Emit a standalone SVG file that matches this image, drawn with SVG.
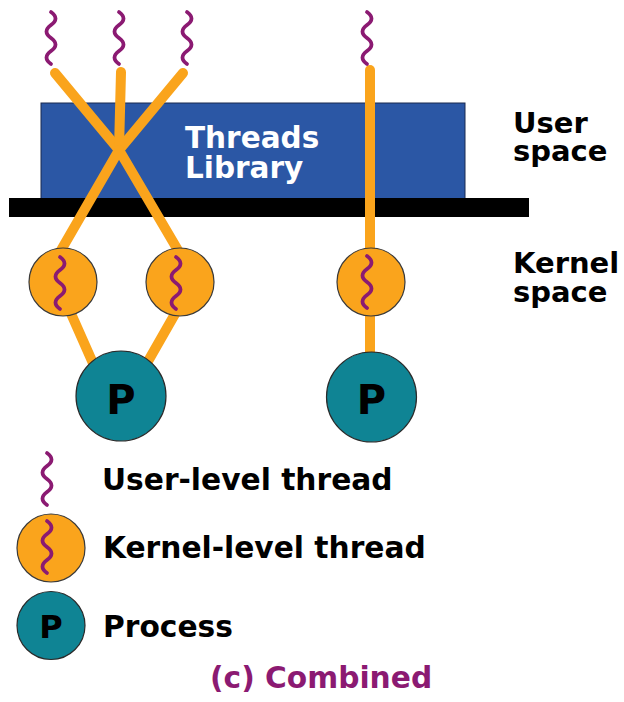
<svg xmlns="http://www.w3.org/2000/svg" xmlns:xlink="http://www.w3.org/1999/xlink" width="624" height="702" viewBox="0 0 624 702">
<style>
.t{font-family:"DejaVu Sans","Liberation Sans",sans-serif;font-weight:bold;fill:#000}
.w{fill:#fff}
.sq{fill:none;stroke:#8B1A72;stroke-width:3.8;stroke-linecap:round}
.con{stroke:#FAA41C;stroke-width:10;stroke-linecap:round;fill:none}
.kt{fill:#FAA41C;stroke:#3a3a3a;stroke-width:1.2}
.pr{fill:#0F8494;stroke:#2a2a2a;stroke-width:1.2}
</style>
<defs>
<path id="sq" d="M0,0 q9,6.5 0,13 t0,13 t0,13 t0,13"/>
</defs>
<rect width="624" height="702" fill="#fff"/>
<g id="library">
<rect x="41" y="103" width="424" height="96" fill="#2B57A5" stroke="#1a2a50" stroke-width="1"/>
<text class="t w" x="185" y="148" font-size="29.5">Threads</text>
<text class="t w" x="185" y="178" font-size="29.5">Library</text>
</g>
<g id="kernel-boundary">
<rect x="9" y="198" width="520" height="19" fill="#000"/>
</g>
<g id="connectors">
<line class="con" x1="55" y1="73" x2="119" y2="150"/>
<line class="con" x1="121" y1="72" x2="119" y2="150"/>
<line class="con" x1="183" y1="73" x2="119" y2="150"/>
<line class="con" x1="119" y1="150" x2="60" y2="252"/>
<line class="con" x1="119" y1="150" x2="179" y2="252"/>
<line class="con" x1="65" y1="300" x2="96" y2="370"/>
<line class="con" x1="183" y1="300" x2="143" y2="370"/>
<line class="con" x1="370" y1="70" x2="370" y2="380"/>
</g>
<g id="ut1"><use href="#sq" class="sq" x="51" y="12"/></g>
<g id="ut2"><use href="#sq" class="sq" x="119" y="12"/></g>
<g id="ut3"><use href="#sq" class="sq" x="187" y="12"/></g>
<g id="ut4"><use href="#sq" class="sq" x="367" y="12"/></g>
<g id="kt1"><circle class="kt" cx="63" cy="282" r="34"/><use href="#sq" class="sq" x="60" y="257"/></g>
<g id="kt2"><circle class="kt" cx="180" cy="282" r="34"/><use href="#sq" class="sq" x="176" y="257"/></g>
<g id="kt3"><circle class="kt" cx="371" cy="282" r="34"/><use href="#sq" class="sq" x="367" y="256"/></g>
<g id="p1"><circle class="pr" cx="121" cy="396" r="45"/><text class="t" x="121" y="414" font-size="40" text-anchor="middle">P</text></g>
<g id="p2"><circle class="pr" cx="371.5" cy="397" r="45"/><text class="t" x="371.5" y="414" font-size="40" text-anchor="middle">P</text></g>
<g id="labels">
<text class="t" x="513" y="133" font-size="29">User</text>
<text class="t" x="513" y="161" font-size="29">space</text>
<text class="t" x="513" y="273" font-size="29">Kernel</text>
<text class="t" x="513" y="302" font-size="29">space</text>
</g>
<g id="legend">
<use href="#sq" class="sq" x="47" y="453"/>
<text class="t" x="102" y="490" font-size="29.7">User-level thread</text>
<circle class="kt" cx="51" cy="548" r="34"/>
<use href="#sq" class="sq" x="47" y="521"/>
<text class="t" x="103" y="558" font-size="29.7">Kernel-level thread</text>
<circle class="pr" cx="51" cy="625.5" r="34"/>
<text class="t" x="51" y="638" font-size="32" text-anchor="middle">P</text>
<text class="t" x="103" y="637" font-size="29.7">Process</text>
<text class="t" x="210" y="688" font-size="29.7" style="fill:#8B1A72">(c) Combined</text>
</g>
</svg>
